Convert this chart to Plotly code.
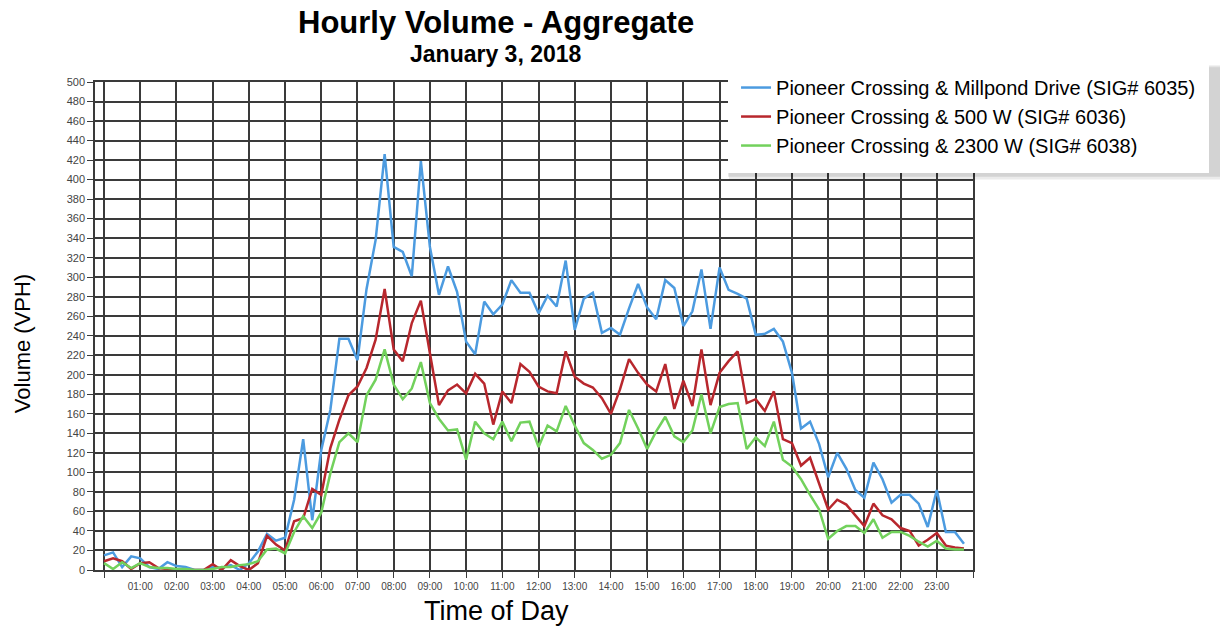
import plotly.graph_objects as go

# 15-minute intervals, hours from midnight
times = [i * 0.25 for i in range(96)]

sig_6035 = [15, 18, 3, 14, 12, 3, 1, 8, 4, 3, 0, 0, 3, 2, 5, 0,
            7, 19, 37, 30, 33, 72, 134, 51, 123, 164, 237, 237, 215, 288, 338, 426,
            331, 326, 301, 419, 331, 282, 311, 285, 234, 221, 275, 262, 272, 297, 284, 284,
            263, 281, 270, 317, 246, 278, 284, 243, 248, 241, 268, 293, 269, 257, 297, 289,
            250, 265, 308, 247, 310, 287, 283, 278, 241, 242, 247, 234, 202, 145, 152, 129,
            95, 120, 104, 82, 74, 110, 93, 69, 77, 77, 68, 44, 82, 39, 39, 27]

sig_6036 = [9, 12, 9, 1, 7, 8, 2, 1, 0, 0, 0, 0, 6, 0, 10, 4,
            0, 7, 35, 26, 20, 50, 53, 83, 77, 125, 154, 179, 188, 207, 236, 288,
            226, 214, 253, 276, 222, 169, 184, 190, 181, 201, 191, 149, 183, 171, 211, 203,
            188, 183, 181, 224, 198, 191, 187, 176, 160, 185, 216, 202, 190, 183, 211, 165,
            194, 168, 226, 169, 202, 214, 224, 171, 175, 163, 183, 134, 130, 107, 115, 89,
            62, 72, 67, 56, 45, 68, 56, 52, 43, 40, 25, 31, 38, 25, 23, 22]

sig_6038 = [7, 1, 8, 2, 7, 3, 2, 2, 1, 1, 0, 0, 1, 3, 3, 5,
            6, 9, 21, 22, 17, 39, 55, 43, 59, 99, 131, 140, 131, 179, 195, 226,
            190, 175, 186, 213, 171, 155, 143, 144, 113, 152, 140, 134, 152, 132, 151, 152,
            126, 148, 142, 168, 148, 130, 123, 114, 118, 130, 164, 145, 124, 142, 157, 137,
            131, 143, 180, 140, 167, 170, 171, 124, 136, 127, 152, 113, 106, 93, 77, 62,
            32, 40, 45, 45, 38, 52, 33, 39, 39, 35, 29, 24, 30, 22, 21, 21]

series_names = [
    "Pioneer Crossing & Millpond Drive (SIG# 6035)",
    "Pioneer Crossing & 500 W (SIG# 6036)",
    "Pioneer Crossing & 2300 W (SIG# 6038)",
]
series_colors = ["#4C9BE0", "#B8272D", "#72D15C"]

hour_ticks = list(range(25))
hour_labels = [""] + [f"{h:02d}:00" for h in range(1, 24)] + [""]

fig = go.Figure()

for name, values, color in zip(series_names, [sig_6035, sig_6036, sig_6038], series_colors):
    fig.add_trace(
        go.Scatter(
            x=times,
            y=values,
            mode="lines",
            name=name,
            line=dict(color=color, width=2.5)
        )
    )

# legend drop shadow
fig.add_shape(type="rect", xref="paper", yref="paper",
              x0=0.722, x1=1.30, y0=0.800, y1=1.030,
              fillcolor="rgba(0,0,0,0.08)", line=dict(width=0), layer="above")
fig.add_shape(type="rect", xref="paper", yref="paper",
              x0=0.721, x1=1.30, y0=0.806, y1=1.034,
              fillcolor="rgba(0,0,0,0.10)", line=dict(width=0), layer="above")

grid = "#3a3a3a"

fig.update_layout(
    xaxis=dict(
        range=[-0.25, 24],
        tickvals=hour_ticks,
        ticktext=hour_labels,
        showgrid=True,
        gridcolor=grid,
        gridwidth=1.5,
        zeroline=False,
        showline=True,
        linecolor=grid,
        linewidth=1.5,
        mirror=True,
        ticks="outside",
        ticklen=6,
        tickcolor=grid,
        tickfont=dict(size=10, color="#444444"),
    ),
    yaxis=dict(
        range=[0, 500],
        dtick=20,
        showgrid=True,
        gridcolor=grid,
        gridwidth=1.5,
        zeroline=False,
        showline=True,
        linecolor=grid,
        linewidth=1.5,
        mirror=True,
        ticks="outside",
        ticklen=6,
        tickcolor=grid,
        tickfont=dict(size=11, color="#444444"),
    ),

    annotations=[
        dict(text="<b>Hourly Volume - Aggregate</b>", xref="paper", yref="paper",
             x=0.457, y=1.121, xanchor="center", yanchor="middle",
             showarrow=False, font=dict(size=31, color="black")),
        dict(text="<b>January 3, 2018</b>", xref="paper", yref="paper",
             x=0.457, y=1.057, xanchor="center", yanchor="middle",
             showarrow=False, font=dict(size=23, color="black")),
        dict(text="Time of Day", xref="paper", yref="paper",
             x=0.457, y=-0.084, xanchor="center", yanchor="middle",
             showarrow=False, font=dict(size=27, color="black")),
        dict(text="Volume (VPH)", xref="paper", yref="paper", textangle=-90,
             x=-0.083, y=0.463, xanchor="center", yanchor="middle",
             showarrow=False, font=dict(size=22, color="black")),
    ],

    paper_bgcolor="white",
    plot_bgcolor="white",
    font=dict(family="Liberation Sans, Arial, sans-serif", size=12, color="black"),
    width=1220,
    height=620,

    legend=dict(
        x=0.721,
        y=1.045,
        xanchor="left",
        yanchor="top",
        bgcolor="white",
        bordercolor="white",
        borderwidth=8,
        font=dict(size=20, color="black"),
        itemwidth=30,
        tracegroupgap=0,
    ),

    showlegend=True,
    margin=dict(l=87, r=255, t=74, b=58)
)

fig.write_html("out.html")
